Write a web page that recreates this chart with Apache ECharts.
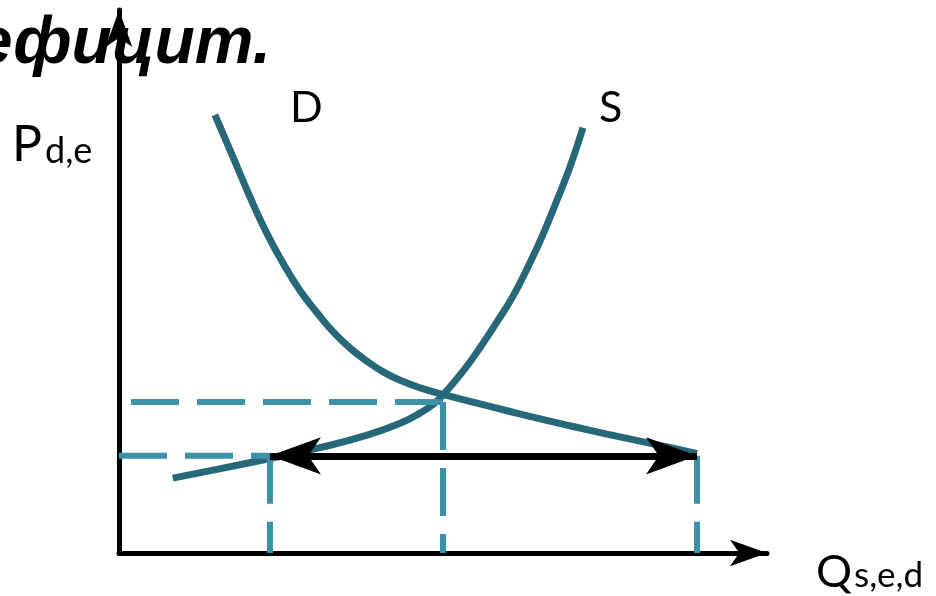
<!DOCTYPE html>
<html>
<head>
<meta charset="utf-8">
<script src="https://cdn.jsdelivr.net/npm/echarts@6/dist/echarts.min.js"></script>
<style>
html, body { margin: 0; padding: 0; background: #fff; }
#chart { width: 936px; height: 596px; }
</style>
</head>
<body>
<div id="chart"></div>
<script>
// demand curve D (quantity, price)
var demandQ = [14.8, 17.6, 20.2, 22.8, 25.3, 27.9, 30.6, 33.0, 35.6, 38.3, 40.7, 43.4, 46.5, 50.0, 54.6, 59.9, 65.0, 70.1, 75.3, 80.4, 85.5, 89.2];
var demandP = [80.7, 72.9, 65.6, 58.9, 53.4, 48.4, 44.2, 40.8, 37.8, 35.3, 33.4, 31.8, 30.4, 29.2, 27.8, 26.2, 24.7, 23.3, 21.9, 20.6, 19.3, 18.3];
// supply curve S
var supplyQ = [8.3, 15.1, 23.3, 31.0, 38.3, 43.4, 46.5, 48.5, 50.0, 53.1, 55.7, 58.3, 60.8, 63.4, 65.4, 67.6, 69.6, 71.6];
var supplyP = [13.8, 15.4, 17.4, 19.4, 21.7, 23.9, 25.8, 27.4, 29.1, 33.5, 37.8, 42.5, 47.3, 53.4, 58.6, 65.0, 71.1, 78.3];
// levels: Qs, Qe, Qd  and  Pe, Pd
var qLevels = [23.3, 50.0, 89.2];
var pLevels = [27.8, 17.9];

function zip(xs, ys) {
    var out = [];
    for (var i = 0; i < xs.length; i++) out.push([xs[i], ys[i]]);
    return out;
}

var curveColor = '#266878';
var dashColor = '#3a91a8';
var qs = qLevels[0], qe = qLevels[1], qd = qLevels[2];
var pe = pLevels[0], pd = pLevels[1];

function dashed(points) {
    return {
        type: 'line',
        data: points,
        showSymbol: false,
        silent: true,
        z: 3,
        lineStyle: { color: dashColor, width: 6, type: [48, 18], cap: 'butt' }
    };
}

var myChart = echarts.init(document.getElementById('chart'));
var option = {
    animation: false,
    grid: { left: 119, right: 169, top: 10, bottom: 43 },
    xAxis: {
        type: 'value', min: 0, max: 100,
        axisLine: { symbol: ['none', 'arrow'], symbolSize: [20, 37], lineStyle: { color: '#000', width: 5 } },
        axisTick: { show: false }, axisLabel: { show: false }, splitLine: { show: false }
    },
    yAxis: {
        type: 'value', min: 0, max: 100,
        axisLine: { symbol: ['none', 'arrow'], symbolSize: [20, 37], lineStyle: { color: '#000', width: 5 } },
        axisTick: { show: false }, axisLabel: { show: false }, splitLine: { show: false }
    },
    series: [
        {
            name: 'D', type: 'line', data: zip(demandQ, demandP),
            smooth: 0.5, showSymbol: false, z: 2,
            lineStyle: { color: curveColor, width: 7 }
        },
        {
            name: 'S', type: 'line', data: zip(supplyQ, supplyP),
            smooth: 0.5, showSymbol: false, z: 2,
            lineStyle: { color: curveColor, width: 7 }
        },
        dashed([[qe, pe], [0, pe]]),
        dashed([[qe, pe], [qe, 0]]),
        dashed([[0, pd], [qs, pd]]),
        dashed([[qs, pd], [qs, 0]]),
        dashed([[qd, pd], [qd, 0]]),
        {
            // deficit arrow
            type: 'line', data: [[qs, pd], [qd, pd]], showSymbol: false, z: 5,
            lineStyle: { width: 0 },
            markLine: {
                silent: true,
                symbol: ['arrow', 'arrow'],
                symbolSize: [28, 51],
                label: { show: false },
                lineStyle: { color: '#000', width: 7, type: 'solid' },
                data: [[{ coord: [qs, pd] }, { coord: [qd, pd] }]]
            }
        }
    ],
    graphic: [
        { type: 'text', x: -72, y: 45, z: 10, style: { text: 'Дефицит.', font: 'italic bold 66px "Liberation Sans"', fill: '#000', verticalAlign: 'middle' } },
        { type: 'text', x: 12, y: 145, style: { text: 'P', font: '50px Lato', fill: '#000', verticalAlign: 'middle' } },
        { type: 'text', x: 45, y: 151, style: { text: 'd,e', font: '36px Lato', fill: '#000', verticalAlign: 'middle' } },
        { type: 'text', x: 290, y: 108, style: { text: 'D', font: '43px Lato', fill: '#000', verticalAlign: 'middle' } },
        { type: 'text', x: 599, y: 108, style: { text: 'S', font: '43px Lato', fill: '#000', verticalAlign: 'middle' } },
        { type: 'text', x: 816, y: 572, style: { text: 'Q', font: '45px Lato', fill: '#000', verticalAlign: 'middle' } },
        { type: 'text', x: 854, y: 576, style: { text: 's,e,d', font: '35px Lato', fill: '#000', verticalAlign: 'middle' } }
    ]
};
myChart.setOption(option);
window.onresize = myChart.resize;
</script>
</body>
</html>
